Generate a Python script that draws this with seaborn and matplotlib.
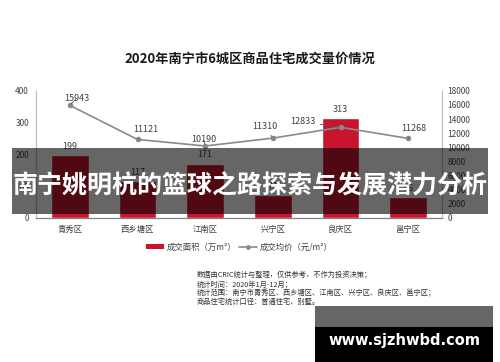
import matplotlib
matplotlib.use('Agg')
import matplotlib.pyplot as plt
import seaborn as sns
import pandas as pd
from matplotlib.patches import Rectangle, Patch
from matplotlib.lines import Line2D

districts = ['青秀区', '西乡塘区', '江南区', '兴宁区', '良庆区', '邕宁区']
area = [199, 117, 171, 73, 313, 66]          # 成交面积（万m²）
price = [15943, 11121, 10190, 11310, 12833, 11268]  # 成交均价（元/m²）

left_ticks = [0, 100, 200, 300, 400]
right_ticks = [0, 2000, 4000, 6000, 8000, 10000, 12000, 14000, 16000, 18000]

notes = [
    '数据由CRIC统计与整理，仅供参考，不作为投资决策；',
    '统计时间：2020年1月-12月；',
    '统计范围：南宁市青秀区、西乡塘区、江南区、兴宁区、良庆区、邕宁区；',
    '商品住宅统计口径：普通住宅、别墅。',
]

red = '#c8142d'
line_gray = '#8a8a8a'
txt = '#404040'

sns.set_theme(style='white')
plt.rcParams['font.family'] = ['Noto Sans CJK SC', 'DejaVu Sans']

df = pd.DataFrame({'district': districts, 'area': area, 'price': price})

fig = plt.figure(figsize=(5, 3.62), dpi=100)
ax = fig.add_axes([0.072, 0.398, 0.812, 0.351])

sns.barplot(data=df, x='district', y='area', color=red, saturation=1,
            width=0.56, ax=ax)
ax.bar_label(ax.containers[0], padding=3, fontsize=6.5, color=txt)
ax.set_ylim(0, 400)
ax.set_yticks(left_ticks)
ax.set_xlim(-0.5, 5.5)
ax.set_xlabel('')
ax.set_ylabel('')
ax.tick_params(axis='x', labelsize=6, colors=txt, length=0, pad=5)
ax.tick_params(axis='y', labelsize=6, colors=txt, length=0, pad=5)

ax2 = ax.twinx()
sns.lineplot(x=df.index, y=df['price'], color=line_gray, marker='o',
             markersize=4, markeredgewidth=0, linewidth=1.2, ax=ax2)
ax2.set_ylim(0, 18000)
ax2.set_yticks(right_ticks)
ax2.set_ylabel('')
ax2.tick_params(axis='y', labelsize=6, colors=txt, length=0, pad=4)

# label offsets (points) for the price annotations
offs = [(5, 5), (6, 7), (-1, 5), (-6, 8.5), (-27, 4), (4, 7)]
for i, v in enumerate(price):
    ax2.annotate(str(v), (i, v), xytext=offs[i], textcoords='offset points',
                 ha='center', va='center', fontsize=6.5, color=txt,
                 arrowprops=dict(arrowstyle='-', color='#555555', lw=0.6,
                                 shrinkA=1, shrinkB=1))

for a in (ax, ax2):
    a.spines['top'].set_visible(False)
    a.spines['left'].set_color('#bfbfbf')
    a.spines['right'].set_color('#bfbfbf')
    a.spines['bottom'].set_color('#7f7f7f')
    for s in a.spines.values():
        s.set_linewidth(0.8)

fig.text(0.5, 1 - 59 / 362, '2020年南宁市6城区商品住宅成交量价情况',
         ha='center', va='center', fontsize=9.5, fontweight='bold', color='#1a1a1a')

handles = [Patch(facecolor=red, edgecolor='none'),
           Line2D([0], [0], color=line_gray, marker='o', markersize=3.5,
                  markeredgewidth=0, linewidth=1.2)]
fig.legend(handles, ['成交面积（万m²）', '成交均价（元/m²）'], loc='center',
           bbox_to_anchor=(0.478, 1 - 247 / 362), ncol=2, frameon=False,
           fontsize=6, handlelength=2.2, handleheight=0.6, columnspacing=0.3,
           handletextpad=0.3, labelcolor=txt)

for k, line in enumerate(notes):
    fig.text(197 / 500, 1 - (275 + 9 * k) / 362, line, ha='left', va='center',
             fontsize=5.2, color='#333333')

# overlay band with headline
fig.patches.append(Rectangle((12 / 500, 1 - 214 / 362), 476 / 500, 66 / 362,
                             transform=fig.transFigure, facecolor='black',
                             alpha=0.6, edgecolor='none', zorder=5))
fig.text(0.5, 1 - 186 / 362, '南宁姚明杭的篮球之路探索与发展潜力分析',
         ha='center', va='center', fontsize=18, fontweight='bold',
         color='white', zorder=6)

# site watermark box
fig.patches.append(Rectangle((315 / 500, 1 - 327 / 362), 178 / 500, 21 / 362,
                             transform=fig.transFigure, facecolor='#666666',
                             edgecolor='none', zorder=5))
fig.patches.append(Rectangle((315 / 500, 0), 178 / 500, 35 / 362,
                             transform=fig.transFigure, facecolor='black',
                             edgecolor='none', zorder=5))
fig.text(404 / 500, 1 - 340 / 362, 'www.sjzhwbd.com', ha='center', va='center',
         fontsize=10.5, fontweight='bold', color='white',
         family='DejaVu Sans', zorder=6)

fig.savefig('out.png', dpi=100, facecolor='white')
